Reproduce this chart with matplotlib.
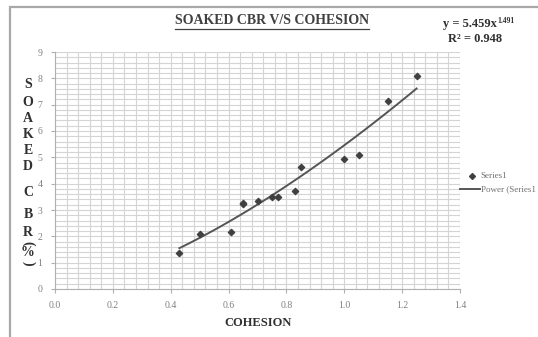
import numpy as np
import matplotlib
matplotlib.use("Agg")
from matplotlib import pyplot as plt
from matplotlib.patches import Rectangle
from matplotlib.lines import Line2D

# soaked CBR test results against cohesion
cohesion = [0.43, 0.50, 0.61, 0.65, 0.65, 0.70, 0.75, 0.77, 0.83, 0.85, 1.00, 1.05, 1.15, 1.25]
cbr = [1.35, 2.08, 2.18, 3.22, 3.28, 3.36, 3.49, 3.49, 3.74, 4.63, 4.93, 5.09, 7.15, 8.10]

# power trendline y = a * x^b
fit_a = 5.459
fit_b = 1.491
fit_r2 = 0.948

x_ticks = [0.0, 0.2, 0.4, 0.6, 0.8, 1.0, 1.2, 1.4]
y_ticks = list(range(0, 10))

serif = "Liberation Serif"
W, H = 538, 337
fig = plt.figure(figsize=(W / 100, H / 100), dpi=100)

# chart frame (runs off the right and bottom edge)
fig.patches.append(Rectangle((10 / W, -0.1), 1.2, (H - 7) / H + 0.1, transform=fig.transFigure,
                             fill=False, ec="#a8a8a8", lw=1.6))

ax = fig.add_axes([55 / W, (H - 289) / H, (460 - 55) / W, (289 - 52) / H])
ax.set_xlim(0, 1.4)
ax.set_ylim(0, 9)
ax.set_xticks(x_ticks)
ax.set_xticks(np.arange(0, 1.41, 0.04), minor=True)
ax.set_yticks(y_ticks)
ax.set_yticks(np.arange(0, 9.01, 0.2), minor=True)
ax.set_xticklabels(["%.1f" % t for t in x_ticks], fontfamily=serif, fontsize=7, color="#808080")
ax.set_yticklabels([str(t) for t in y_ticks], fontfamily=serif, fontsize=7, color="#808080")
ax.grid(which="both", color="#d4d4d4", lw=0.8)
ax.set_axisbelow(True)
for s in ["top", "right"]:
    ax.spines[s].set_visible(False)
for s in ["left", "bottom"]:
    ax.spines[s].set_color("#b0b0b0")
ax.tick_params(which="major", length=3, color="#b0b0b0", pad=6)
ax.tick_params(which="minor", length=0)

ax.scatter(cohesion, cbr, marker="D", s=10, color="#404040", zorder=3, label="Series1")
xf = np.linspace(min(cohesion), max(cohesion), 100)
ax.plot(xf, fit_a * xf ** fit_b, color="#555555", lw=1.4, zorder=2, label="Power (Series1")

# title with underline
title = fig.text(272 / W, 1 - 21 / H, "SOAKED CBR V/S COHESION", ha="center", va="center",
                 fontfamily=serif, fontweight="bold", fontsize=10, color="#404040")
eq = fig.text(470 / W, 1 - 24 / H, "y = %.3fx" % fit_a, ha="center", va="center",
              fontfamily=serif, fontweight="bold", fontsize=9, color="#303030")
fig.text(475 / W, 1 - 39 / H, "R\u00b2 = %.3f" % fit_r2, ha="center", va="center",
         fontfamily=serif, fontweight="bold", fontsize=9, color="#303030")
fig.canvas.draw()
bb = title.get_window_extent()
fig.lines.append(Line2D([bb.x0 / W, bb.x1 / W], [(bb.y0 - 1) / H] * 2, transform=fig.transFigure,
                        color="#404040", lw=0.9))
eb = eq.get_window_extent()
fig.text((eb.x1 + 0.5) / W, (eb.y1 - 3) / H, "%.3f" % fit_b, ha="left", va="center",
         fontfamily=serif, fontweight="bold", fontsize=5.5, color="#303030")

fig.text(258 / W, 1 - 323 / H, "COHESION", ha="center", va="center",
         fontfamily=serif, fontweight="bold", fontsize=9, color="#303030")

# stacked y label
ylab = [("S", 85), ("O", 102), ("A", 119), ("K", 135), ("E", 151), ("D", 167),
        ("C", 193), ("B", 215), ("R", 232), ("(", 243), ("%", 253), (")", 263)]
for ch, yy in ylab:
    rot = -90 if ch in "()" else 0
    fig.text(28 / W, 1 - yy / H, ch, ha="center", va="center", rotation=rot,
             fontfamily=serif, fontweight="bold", fontsize=10, color="#303030")

# legend
fig.lines.append(Line2D([472 / W], [1 - 176 / H], marker="D", ms=3, color="#404040",
                        transform=fig.transFigure))
fig.text(480 / W, 1 - 176 / H, "Series1", ha="left", va="center",
         fontfamily=serif, fontsize=6.5, color="#707070")
fig.lines.append(Line2D([460 / W, 480 / W], [1 - 189 / H] * 2, color="#555555", lw=1.4,
                        transform=fig.transFigure))
fig.text(481 / W, 1 - 189 / H, "Power (Series1", ha="left", va="center",
         fontfamily=serif, fontsize=6.5, color="#707070")

fig.savefig("out.png", dpi=100)
